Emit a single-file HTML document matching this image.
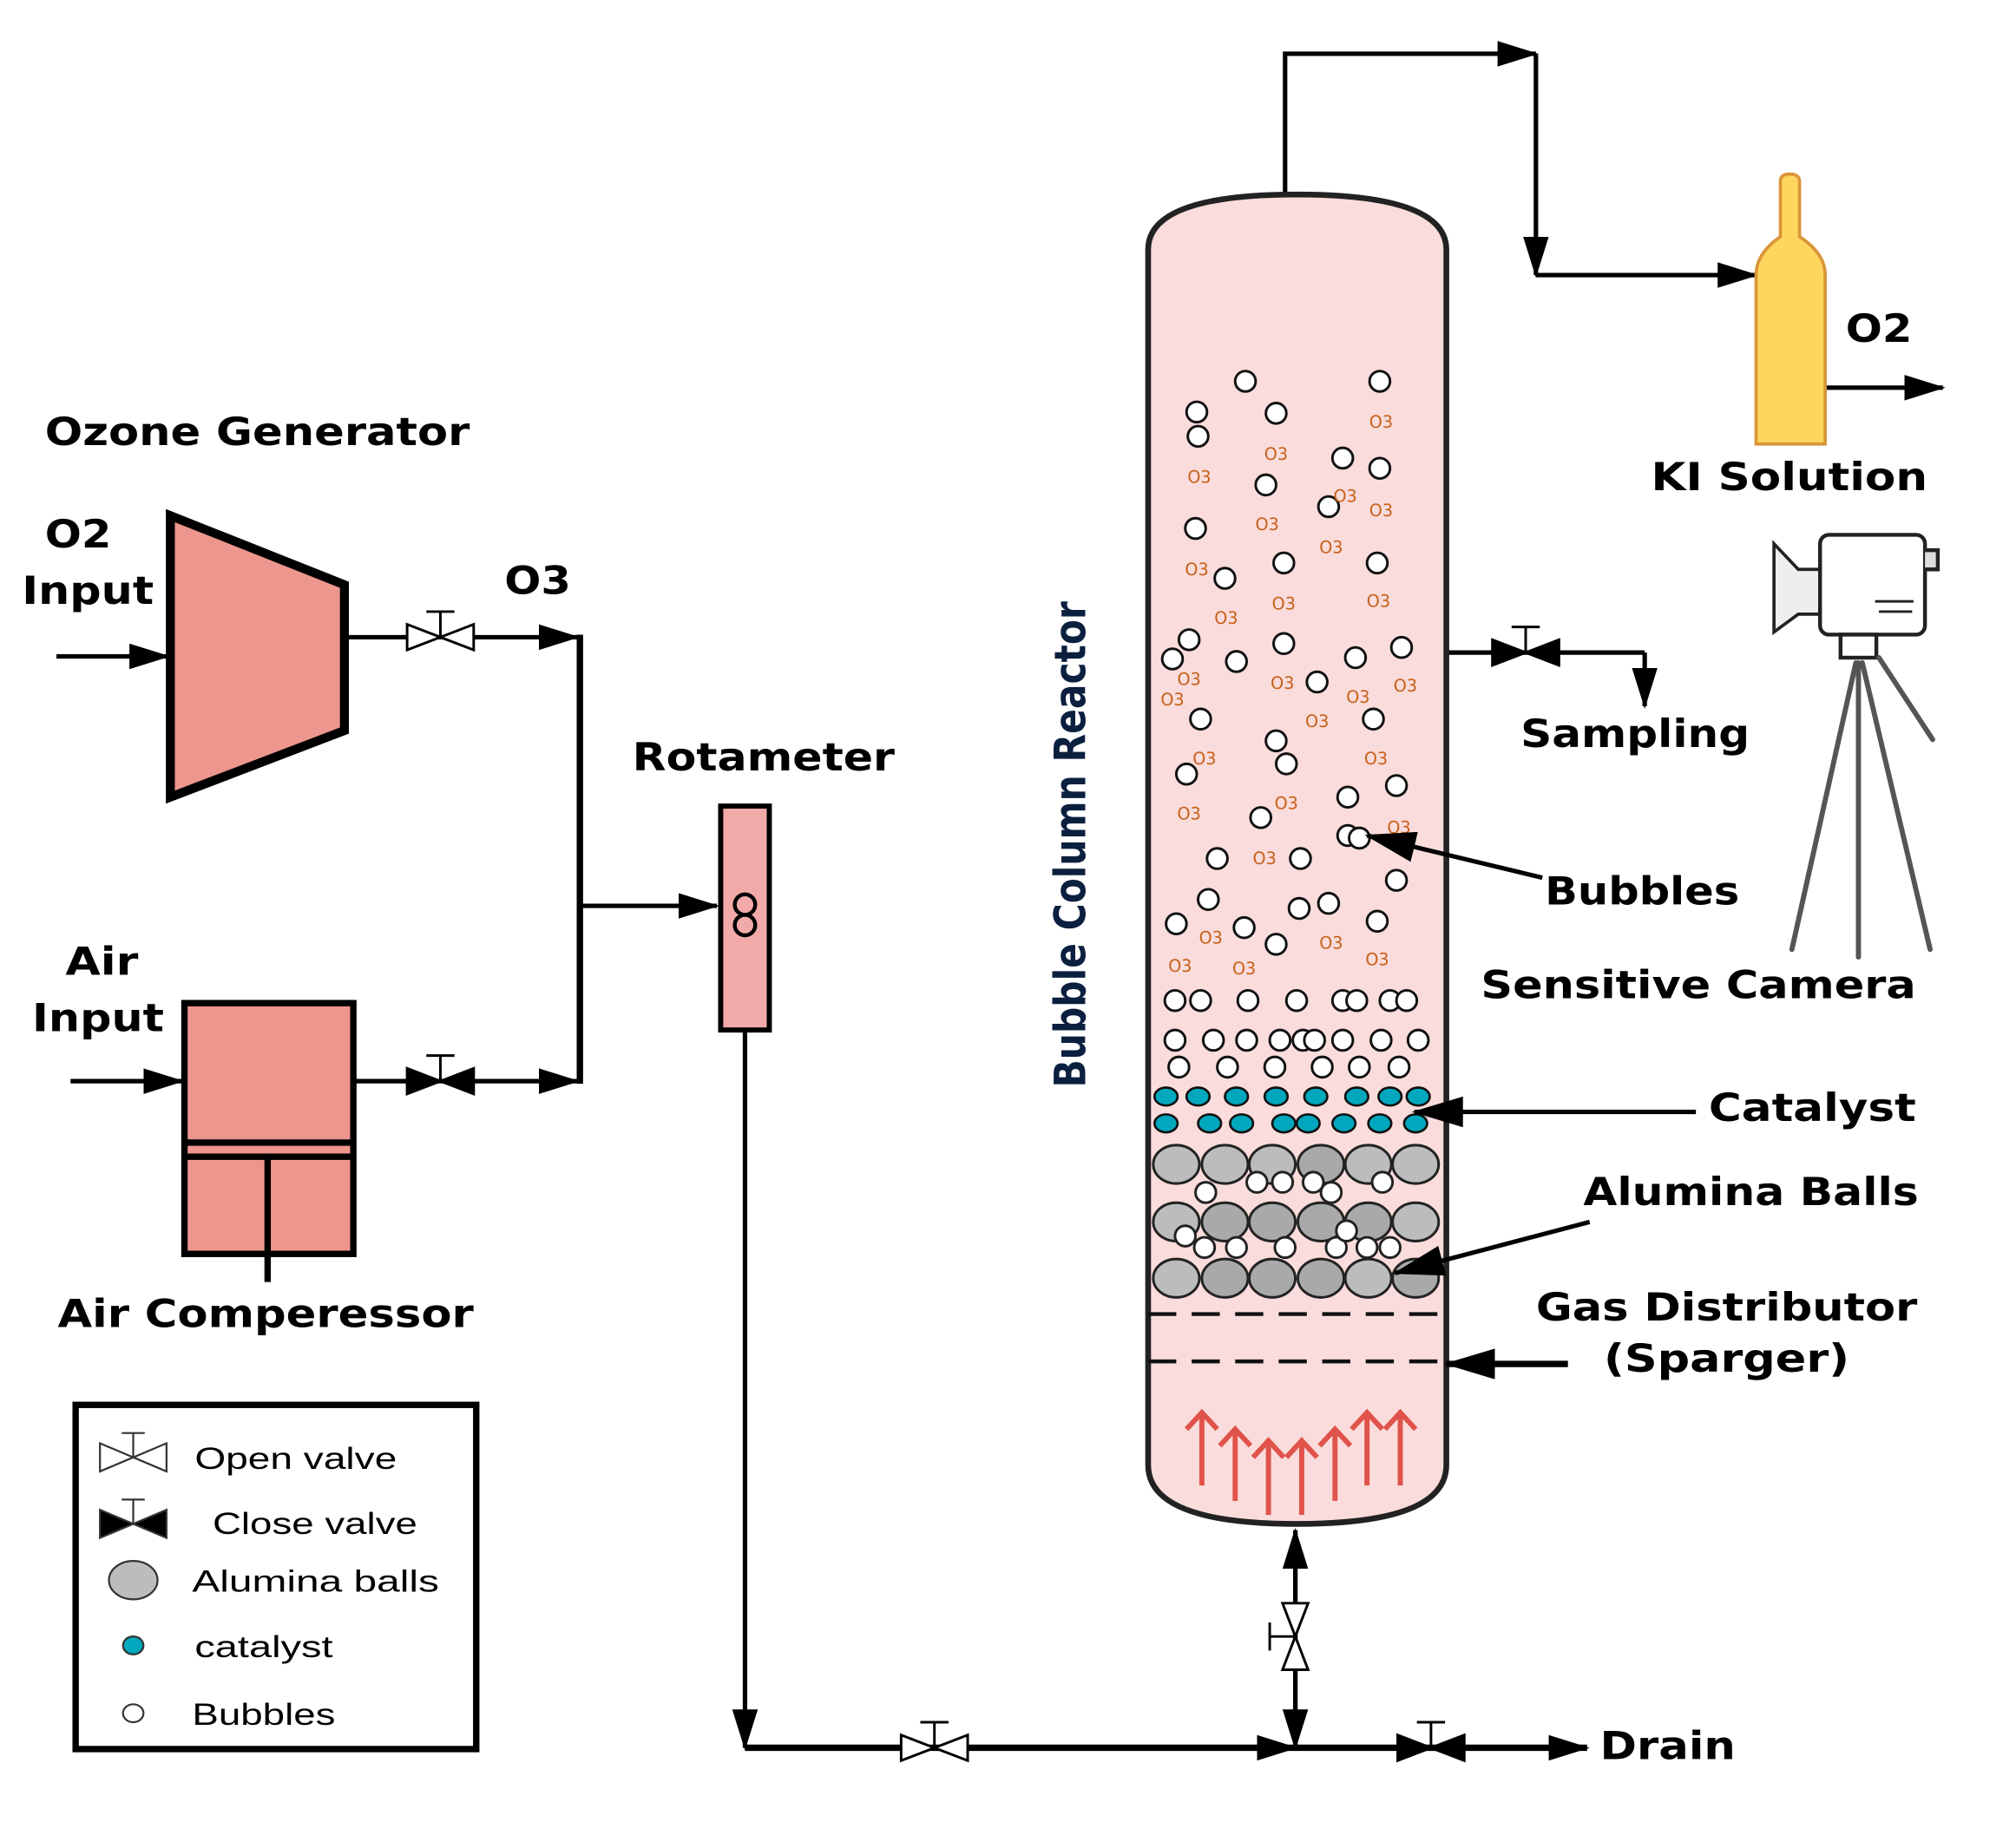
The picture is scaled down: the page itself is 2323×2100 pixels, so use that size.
<!DOCTYPE html>
<html><head><meta charset="utf-8"><style>
html,body{margin:0;padding:0;background:#fff;}
svg{display:block;}
.t{font-family:"DejaVu Sans","Liberation Sans",sans-serif;font-weight:bold;fill:#000;}
.l{font-family:"Liberation Sans","DejaVu Sans",sans-serif;fill:#000;}
.o{font-family:"DejaVu Sans",sans-serif;font-size:13px;fill:#c8601a;text-anchor:middle;dominant-baseline:central;}
</style></head><body>
<svg width="2323" height="2100" viewBox="0 0 1575 1424" xmlns="http://www.w3.org/2000/svg">
<defs>
<marker id="a" markerWidth="32" markerHeight="20" refX="30" refY="10" orient="auto" markerUnits="userSpaceOnUse"><path d="M0,0 L32,10 L0,20 z" fill="#000"/></marker>
<marker id="b" markerWidth="40" markerHeight="24" refX="38" refY="12" orient="auto" markerUnits="userSpaceOnUse"><path d="M0,0 L40,12 L0,24 z" fill="#000"/></marker>
</defs>
<g stroke="#000" stroke-width="3.5" fill="none">
<line x1="44" y1="513" x2="131" y2="513" marker-end="url(#a)"/>
<line x1="55" y1="845" x2="142" y2="845" marker-end="url(#a)"/>
<line x1="269" y1="498" x2="451" y2="498" marker-end="url(#a)"/>
<line x1="276" y1="845" x2="451" y2="845" marker-end="url(#a)"/>
<line x1="453" y1="496" x2="453" y2="847" stroke-width="5"/>
<line x1="453" y1="708" x2="560" y2="708" marker-end="url(#a)"/>
<line x1="582" y1="805" x2="582" y2="1366" marker-end="url(#a)"/>
<line x1="582" y1="1366" x2="1012" y2="1366" stroke-width="5" marker-end="url(#a)"/>
<line x1="1012" y1="1366" x2="1240" y2="1366" stroke-width="5" marker-end="url(#a)"/>
<line x1="1012" y1="1366" x2="1012" y2="1196" marker-end="url(#a)"/>
<line x1="1012" y1="1196" x2="1012" y2="1366" marker-end="url(#a)"/>
<polyline points="1004,152 1004,42 1200,42" marker-end="url(#a)"/>
<polyline points="1200,42 1200,215" marker-end="url(#a)"/>
<polyline points="1200,215 1372,215" marker-end="url(#a)"/>
<line x1="1425" y1="303" x2="1518" y2="303" marker-end="url(#a)"/>
<line x1="1130" y1="510" x2="1285" y2="510"/>
<line x1="1285" y1="510" x2="1285" y2="552" marker-end="url(#a)"/>
</g>
<polygon points="133,403 269,457 269,571 133,623" fill="#ec968e" stroke="#000" stroke-width="7"/>
<rect x="144" y="784" width="132" height="196" fill="#ec968e" stroke="#000" stroke-width="5"/>
<line x1="144" y1="893" x2="276" y2="893" stroke="#000" stroke-width="5"/>
<line x1="144" y1="904" x2="276" y2="904" stroke="#000" stroke-width="5"/>
<line x1="209" y1="904" x2="209" y2="1002" stroke="#000" stroke-width="5"/>
<rect x="563" y="630" width="38" height="175" fill="#f2aaa9" stroke="#000" stroke-width="4"/>
<circle cx="582" cy="707" r="8" fill="none" stroke="#000" stroke-width="3"/>
<circle cx="582" cy="723" r="8" fill="none" stroke="#000" stroke-width="3"/>
<g stroke="#000" stroke-width="2">
<path d="M318,488 L344,498 L318,508 Z M370,488 L344,498 L370,508 Z" fill="#fff"/>
<path d="M344,498 V478 M333,478 H355"/>
<path d="M318,835 L344,845 L318,855 Z M370,835 L344,845 L370,855 Z" fill="#000"/>
<path d="M344,845 V825 M333,825 H355"/>
<path d="M1166,500 L1192,510 L1166,520 Z M1218,500 L1192,510 L1218,520 Z" fill="#000"/>
<path d="M1192,510 V490 M1181,490 H1203"/>
<path d="M704,1356 L730,1366 L704,1376 Z M756,1356 L730,1366 L756,1376 Z" fill="#fff"/>
<path d="M730,1366 V1346 M719,1346 H741"/>
<path d="M1092,1356 L1118,1366 L1092,1376 Z M1144,1356 L1118,1366 L1144,1376 Z" fill="#000"/>
<path d="M1118,1366 V1346 M1107,1346 H1129"/>
<path d="M1002,1253 L1012,1279 L1022,1253 Z M1002,1305 L1012,1279 L1022,1305 Z" fill="#fff"/>
<path d="M1012,1279 H992 M992,1268 V1290"/>
</g>
<path d="M897,1145 L897,195 Q897,152 1013,152 Q1130,152 1130,195 L1130,1145 Q1130,1191 1013,1191 Q897,1191 897,1145 Z" fill="#f9dcdb" stroke="#222" stroke-width="4.5"/>
<g stroke="#111" stroke-width="3" stroke-dasharray="22,12">
<line x1="897" y1="1027" x2="1130" y2="1027"/>
<line x1="897" y1="1064" x2="1130" y2="1064"/>
</g>
<g stroke="#e0534a" stroke-width="4" fill="none">
<path d="M939,1161 V1104 M927,1117 L939,1104 L951,1117"/>
<path d="M965,1173 V1117 M953,1130 L965,1117 L977,1130"/>
<path d="M991,1184 V1126 M979,1139 L991,1126 L1003,1139"/>
<path d="M1017,1184 V1126 M1005,1139 L1017,1126 L1029,1139"/>
<path d="M1043,1173 V1117 M1031,1130 L1043,1117 L1055,1130"/>
<path d="M1068,1161 V1104 M1056,1117 L1068,1104 L1080,1117"/>
<path d="M1094,1161 V1104 M1082,1117 L1094,1104 L1106,1117"/>
</g>
<g fill="#fff" stroke="#111" stroke-width="2">
<circle cx="973" cy="298" r="8"/><circle cx="1078" cy="298" r="8"/><circle cx="935" cy="322" r="8"/><circle cx="997" cy="323" r="8"/><circle cx="936" cy="341" r="8"/><circle cx="1049" cy="358" r="8"/><circle cx="1078" cy="366" r="8"/><circle cx="989" cy="379" r="8"/><circle cx="1038" cy="396" r="8"/><circle cx="934" cy="413" r="8"/><circle cx="1003" cy="440" r="8"/><circle cx="1076" cy="440" r="8"/><circle cx="957" cy="452" r="8"/><circle cx="929" cy="500" r="8"/><circle cx="1003" cy="503" r="8"/><circle cx="1095" cy="506" r="8"/><circle cx="916" cy="515" r="8"/><circle cx="966" cy="517" r="8"/><circle cx="1059" cy="514" r="8"/><circle cx="1029" cy="533" r="8"/><circle cx="938" cy="562" r="8"/><circle cx="1073" cy="562" r="8"/><circle cx="997" cy="579" r="8"/><circle cx="1005" cy="597" r="8"/><circle cx="927" cy="605" r="8"/><circle cx="1091" cy="614" r="8"/><circle cx="1053" cy="623" r="8"/><circle cx="985" cy="639" r="8"/><circle cx="1053" cy="653" r="8"/><circle cx="1062" cy="655" r="8"/><circle cx="951" cy="671" r="8"/><circle cx="1016" cy="671" r="8"/><circle cx="1091" cy="688" r="8"/><circle cx="944" cy="703" r="8"/><circle cx="1015" cy="710" r="8"/><circle cx="1038" cy="706" r="8"/><circle cx="919" cy="722" r="8"/><circle cx="972" cy="725" r="8"/><circle cx="997" cy="738" r="8"/><circle cx="1076" cy="720" r="8"/>
<circle cx="918" cy="782" r="8"/><circle cx="938" cy="782" r="8"/><circle cx="975" cy="782" r="8"/><circle cx="1013" cy="782" r="8"/><circle cx="1049" cy="782" r="8"/><circle cx="1060" cy="782" r="8"/><circle cx="1086" cy="782" r="8"/><circle cx="1099" cy="782" r="8"/>
<circle cx="918" cy="813" r="8"/><circle cx="948" cy="813" r="8"/><circle cx="974" cy="813" r="8"/><circle cx="1000" cy="813" r="8"/><circle cx="1018" cy="813" r="8"/><circle cx="1027" cy="813" r="8"/><circle cx="1049" cy="813" r="8"/><circle cx="1079" cy="813" r="8"/><circle cx="1108" cy="813" r="8"/>
<circle cx="921" cy="834" r="8"/><circle cx="959" cy="834" r="8"/><circle cx="996" cy="834" r="8"/><circle cx="1033" cy="834" r="8"/><circle cx="1062" cy="834" r="8"/><circle cx="1093" cy="834" r="8"/>
</g>
<g fill="#00a7bd" stroke="#111" stroke-width="1.8">
<ellipse cx="911" cy="857" rx="9" ry="7"/><ellipse cx="936" cy="857" rx="9" ry="7"/><ellipse cx="966" cy="857" rx="9" ry="7"/><ellipse cx="997" cy="857" rx="9" ry="7"/><ellipse cx="1028" cy="857" rx="9" ry="7"/><ellipse cx="1060" cy="857" rx="9" ry="7"/><ellipse cx="1086" cy="857" rx="9" ry="7"/><ellipse cx="1108" cy="857" rx="9" ry="7"/>
<ellipse cx="911" cy="878" rx="9" ry="7"/><ellipse cx="945" cy="878" rx="9" ry="7"/><ellipse cx="970" cy="878" rx="9" ry="7"/><ellipse cx="1003" cy="878" rx="9" ry="7"/><ellipse cx="1022" cy="878" rx="9" ry="7"/><ellipse cx="1050" cy="878" rx="9" ry="7"/><ellipse cx="1078" cy="878" rx="9" ry="7"/><ellipse cx="1106" cy="878" rx="9" ry="7"/>
</g>
<g stroke="#222" stroke-width="2">
<g fill="#bcbcbc">
<ellipse cx="919" cy="910" rx="18" ry="15"/><ellipse cx="957" cy="910" rx="18" ry="15"/><ellipse cx="994" cy="910" rx="18" ry="15"/><ellipse cx="1032" cy="910" rx="18" ry="15" fill="#a9a9a9"/><ellipse cx="1069" cy="910" rx="18" ry="15"/><ellipse cx="1106" cy="910" rx="18" ry="15"/>
<ellipse cx="919" cy="955" rx="18" ry="15"/><ellipse cx="957" cy="955" rx="18" ry="15" fill="#a9a9a9"/><ellipse cx="994" cy="955" rx="18" ry="15" fill="#a9a9a9"/><ellipse cx="1032" cy="955" rx="18" ry="15" fill="#a9a9a9"/><ellipse cx="1069" cy="955" rx="18" ry="15" fill="#a9a9a9"/><ellipse cx="1106" cy="955" rx="18" ry="15"/>
<ellipse cx="919" cy="999" rx="18" ry="15"/><ellipse cx="957" cy="999" rx="18" ry="15" fill="#a9a9a9"/><ellipse cx="994" cy="999" rx="18" ry="15" fill="#a9a9a9"/><ellipse cx="1032" cy="999" rx="18" ry="15" fill="#a9a9a9"/><ellipse cx="1069" cy="999" rx="18" ry="15"/><ellipse cx="1106" cy="999" rx="18" ry="15" fill="#a9a9a9"/>
</g>
<g fill="#fff">
<circle cx="942" cy="932" r="8"/><circle cx="982" cy="924" r="8"/><circle cx="1002" cy="924" r="8"/><circle cx="1026" cy="924" r="8"/><circle cx="1040" cy="932" r="8"/><circle cx="1080" cy="924" r="8"/><circle cx="926" cy="966" r="8"/><circle cx="941" cy="975" r="8"/><circle cx="966" cy="975" r="8"/><circle cx="1004" cy="975" r="8"/><circle cx="1044" cy="975" r="8"/><circle cx="1052" cy="962" r="8"/><circle cx="1068" cy="975" r="8"/><circle cx="1086" cy="975" r="8"/>
</g>
</g>
<g>
<text class="o" x="937" y="373">O3</text><text class="o" x="1079" y="330">O3</text><text class="o" x="997" y="355">O3</text><text class="o" x="1051" y="388">O3</text><text class="o" x="1079" y="399">O3</text><text class="o" x="990" y="410">O3</text><text class="o" x="1040" y="428">O3</text><text class="o" x="935" y="445">O3</text><text class="o" x="1003" y="472">O3</text><text class="o" x="1077" y="470">O3</text><text class="o" x="958" y="483">O3</text><text class="o" x="929" y="531">O3</text><text class="o" x="916" y="547">O3</text><text class="o" x="1002" y="534">O3</text><text class="o" x="1061" y="545">O3</text><text class="o" x="1098" y="536">O3</text><text class="o" x="1029" y="564">O3</text><text class="o" x="941" y="593">O3</text><text class="o" x="1075" y="593">O3</text><text class="o" x="929" y="636">O3</text><text class="o" x="1005" y="628">O3</text><text class="o" x="1093" y="647">O3</text><text class="o" x="988" y="671">O3</text><text class="o" x="946" y="733">O3</text><text class="o" x="1040" y="737">O3</text><text class="o" x="922" y="755">O3</text><text class="o" x="972" y="757">O3</text><text class="o" x="1076" y="750">O3</text>
</g>
<!-- label arrows (on top) -->
<g stroke="#000" stroke-width="3.5" fill="none">
<line x1="1205" y1="686" x2="1068" y2="653" marker-end="url(#b)"/>
<line x1="1325" y1="869" x2="1105" y2="869" marker-end="url(#b)"/>
<line x1="1242" y1="955" x2="1090" y2="995" marker-end="url(#b)"/>
<line x1="1225" y1="1066" x2="1130" y2="1066" stroke-width="5" marker-end="url(#b)"/>
</g>
<path d="M1391,185 V142 Q1391,136 1398,136 Q1406,136 1406,142 V185 Q1426,198 1426,215 V347 H1372 V215 Q1372,198 1391,185 Z" fill="#fed65d" stroke="#d9953a" stroke-width="2.5"/>
<g stroke="#222" stroke-width="3" fill="#fff">
<path d="M1386,425 L1405,445 L1422,445 L1422,480 L1405,480 L1386,494 Z" stroke-width="2.5" fill="#eee"/>
<rect x="1422" y="418" width="82" height="78" rx="7"/>
<rect x="1438" y="496" width="28" height="18"/>
<path d="M1504,430 h10 v15 h-10" fill="#ddd"/>
<path d="M1465,470 h30 M1468,478 h26" stroke-width="2"/>
</g>
<g stroke="#555" stroke-width="4" fill="none" stroke-linecap="round">
<path d="M1450,518 L1400,742"/>
<path d="M1452,518 L1452,748"/>
<path d="M1455,518 L1508,742"/>
<path d="M1468,514 L1510,578"/>
</g>
<rect x="59" y="1098" width="313" height="269" fill="none" stroke="#000" stroke-width="5"/>
<g stroke="#333" stroke-width="1.5">
<path d="M78,1128 L104,1139 L78,1150 Z M130,1128 L104,1139 L130,1150 Z" fill="#fff"/>
<path d="M104,1139 V1120 M95,1120 H113"/>
<path d="M78,1180 L104,1191 L78,1202 Z M130,1180 L104,1191 L130,1202 Z" fill="#000"/>
<path d="M104,1191 V1172 M95,1172 H113"/>
<ellipse cx="104" cy="1235" rx="19" ry="15" fill="#bcbcbc"/>
<ellipse cx="104" cy="1286" rx="8" ry="7" fill="#00a7bd"/>
<ellipse cx="104" cy="1339" rx="8" ry="7" fill="#fff"/>
</g>
<g class="l" font-size="24">
<text x="152" y="1148" textLength="158" lengthAdjust="spacingAndGlyphs">Open valve</text>
<text x="166" y="1199" textLength="160" lengthAdjust="spacingAndGlyphs">Close valve</text>
<text x="150" y="1244" textLength="193" lengthAdjust="spacingAndGlyphs">Alumina balls</text>
<text x="152" y="1295" textLength="108" lengthAdjust="spacingAndGlyphs">catalyst</text>
<text x="150" y="1348" textLength="112" lengthAdjust="spacingAndGlyphs">Bubbles</text>
</g>
<g class="t" font-size="30">
<text x="35" y="348" textLength="332" lengthAdjust="spacingAndGlyphs">Ozone Generator</text>
<text x="35" y="428" textLength="52" lengthAdjust="spacingAndGlyphs">O2</text>
<text x="17" y="472" textLength="103" lengthAdjust="spacingAndGlyphs">Input</text>
<text x="394" y="464" textLength="52" lengthAdjust="spacingAndGlyphs">O3</text>
<text x="51" y="762" textLength="57" lengthAdjust="spacingAndGlyphs">Air</text>
<text x="25" y="806" textLength="103" lengthAdjust="spacingAndGlyphs">Input</text>
<text x="45" y="1037" textLength="325" lengthAdjust="spacingAndGlyphs">Air Comperessor</text>
<text x="494" y="602" textLength="205" lengthAdjust="spacingAndGlyphs">Rotameter</text>
<text x="1442" y="267" textLength="52" lengthAdjust="spacingAndGlyphs">O2</text>
<text x="1290" y="383" textLength="216" lengthAdjust="spacingAndGlyphs">KI Solution</text>
<text x="1188" y="584" textLength="179" lengthAdjust="spacingAndGlyphs">Sampling</text>
<text x="1207" y="707" textLength="152" lengthAdjust="spacingAndGlyphs">Bubbles</text>
<text x="1157" y="780" textLength="340" lengthAdjust="spacingAndGlyphs">Sensitive Camera</text>
<text x="1335" y="876" textLength="162" lengthAdjust="spacingAndGlyphs">Catalyst</text>
<text x="1237" y="942" textLength="262" lengthAdjust="spacingAndGlyphs">Alumina Balls</text>
<text x="1200" y="1032" textLength="298" lengthAdjust="spacingAndGlyphs">Gas Distributor</text>
<text x="1253" y="1072" textLength="192" lengthAdjust="spacingAndGlyphs">(Sparger)</text>
<text x="1250" y="1375" textLength="106" lengthAdjust="spacingAndGlyphs">Drain</text>
</g>
<text class="t" font-size="34" style="fill:#0b1f3f" transform="translate(848,850) rotate(-90)" textLength="380" lengthAdjust="spacingAndGlyphs">Bubble Column Reactor</text>
</svg>
</body></html>
